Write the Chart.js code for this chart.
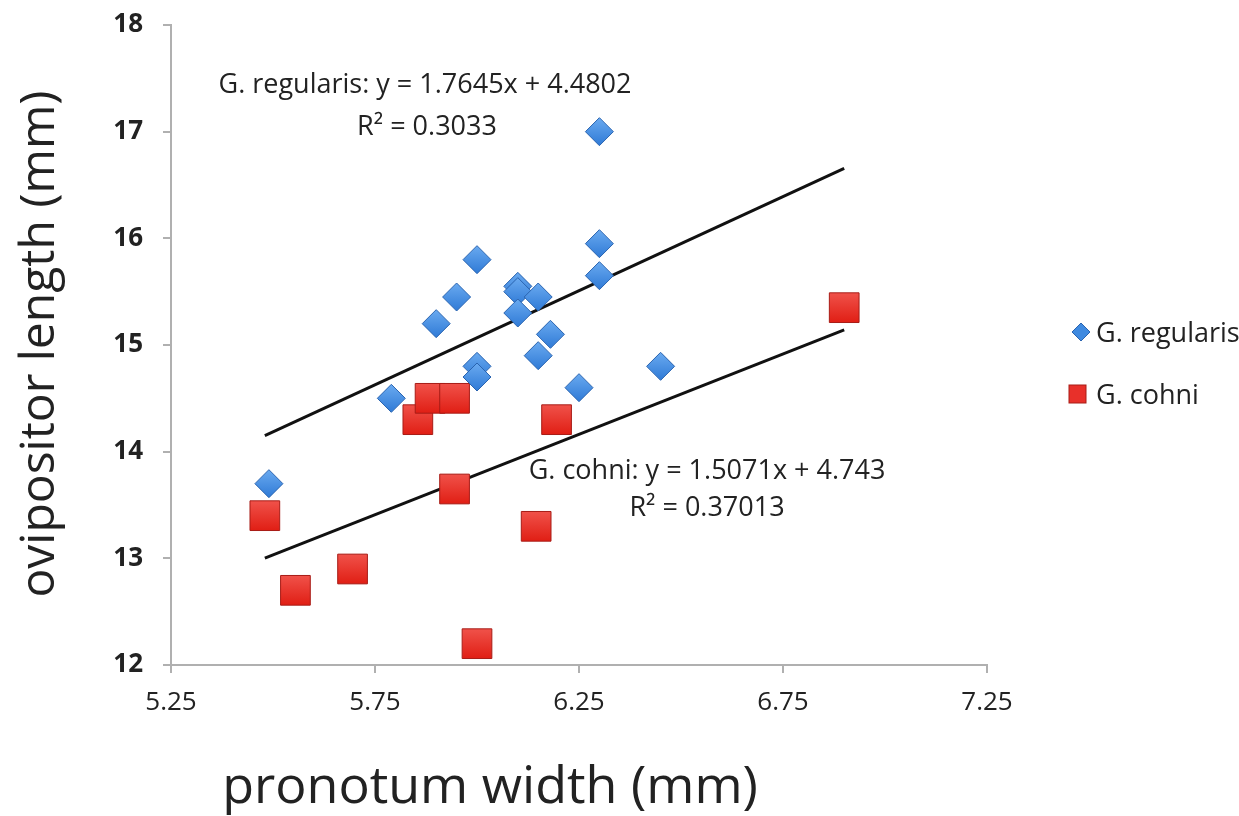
<!DOCTYPE html>
<html>
<head>
<meta charset="utf-8">
<script src="https://cdn.jsdelivr.net/npm/chart.js@4.4.1/dist/chart.umd.min.js"></script>
<style>
  html, body { margin: 0; padding: 0; background: #fff; }
  #wrap { width: 1239px; height: 816px; }
</style>
</head>
<body>
<div id="wrap"><canvas id="chart"></canvas></div>
<script>
// G. regularis (blue diamonds)
const regX = [5.49, 5.79, 5.9, 5.95, 6.0, 6.0, 6.0, 6.1, 6.1, 6.1, 6.15, 6.18, 6.15, 6.25, 6.3, 6.3, 6.3, 6.45];
const regY = [13.7, 14.5, 15.2, 15.45, 15.8, 14.8, 14.7, 15.55, 15.5, 15.3, 15.45, 15.1, 14.9, 14.6, 17.0, 15.95, 15.65, 14.8];
// G. cohni (red squares)
const cohX = [5.48, 5.555, 5.695, 5.855, 5.885, 5.945, 5.945, 6.0, 6.145, 6.195, 6.9];
const cohY = [13.4, 12.7, 12.9, 14.3, 14.5, 14.5, 13.65, 12.2, 13.3, 14.3, 15.35];

// trend line coefficients as printed on the chart
const regFit = { slope: 1.7645, icpt: 4.4802, r2: "0.3033" };
const cohFit = { slope: 1.5071, icpt: 4.743, r2: "0.37013" };
const fitRange = [5.48, 6.9];

const xTicks = [5.25, 5.75, 6.25, 6.75, 7.25];
const yTicks = [12, 13, 14, 15, 16, 17, 18];

const FONT = "'Open Sans', sans-serif";

function pts(xs, ys) { return xs.map((x, i) => ({ x: x, y: ys[i] })); }
function fitLine(f) { return fitRange.map(x => ({ x: x, y: f.slope * x + f.icpt })); }

// vertical gradient fill for each marker, like the glossy Excel markers
function markerFill(top, bottom, half) {
  return (ctx) => {
    if (ctx.type !== "data" || !ctx.parsed) return bottom;
    const y = ctx.chart.scales.y.getPixelForValue(ctx.parsed.y);
    if (!isFinite(y)) return bottom;
    const g = ctx.chart.ctx.createLinearGradient(0, y - half, 0, y + half);
    g.addColorStop(0, top);
    g.addColorStop(1, bottom);
    return g;
  };
}

const textPlugin = {
  id: "texts",
  afterDraw(chart) {
    const c = chart.ctx;
    c.save();
    c.fillStyle = "#222";
    c.textAlign = "center";
    c.textBaseline = "middle";
    c.font = "27px " + FONT;
    c.fillText("G. regularis: y = " + regFit.slope + "x + " + regFit.icpt, 425, 85);
    c.fillText("R\u00b2 = " + regFit.r2, 427, 127);
    c.fillText("G. cohni: y = " + cohFit.slope + "x + " + cohFit.icpt, 707, 471);
    c.fillText("R\u00b2 = " + cohFit.r2, 707, 508);

    // axis titles
    c.font = "52px " + FONT;
    c.fillText("pronotum width (mm)", 490, 788);
    c.save();
    c.translate(40, 344);
    c.rotate(-Math.PI / 2);
    c.font = "48px " + FONT;
    c.fillText("ovipositor length (mm)", 0, 0);
    c.restore();

    // legend
    c.textAlign = "left";
    c.font = "27px " + FONT;
    c.fillStyle = "#3f8ae0";
    c.strokeStyle = "#2a64b0";
    c.lineWidth = 1;
    c.beginPath();
    c.moveTo(1081, 323); c.lineTo(1090, 332); c.lineTo(1081, 341); c.lineTo(1072, 332); c.closePath();
    c.fill(); c.stroke();
    c.fillStyle = "#e8302a";
    c.strokeStyle = "#a81c16";
    c.fillRect(1069, 385, 17, 18);
    c.strokeRect(1069, 385, 17, 18);
    c.fillStyle = "#222";
    c.fillText("G. regularis", 1096, 334);
    c.fillText("G. cohni", 1096, 396);
    c.restore();
  }
};

new Chart(document.getElementById("chart"), {
  type: "scatter",
  data: {
    datasets: [
      {
        label: "G. regularis",
        data: pts(regX, regY),
        pointStyle: "rectRot",
        pointRadius: 14,
        pointHoverRadius: 14,
        backgroundColor: markerFill("#6aaaf0", "#2f7ad6", 14),
        borderColor: "#2a64b0",
        borderWidth: 1,
      },
      {
        label: "G. cohni",
        data: pts(cohX, cohY),
        pointStyle: "rect",
        pointRadius: 21,
        pointHoverRadius: 21,
        backgroundColor: markerFill("#f0524a", "#e01e14", 15),
        borderColor: "#a81c16",
        borderWidth: 1,
      },
      {
        type: "line",
        data: fitLine(regFit),
        borderColor: "#111",
        borderWidth: 3,
        pointRadius: 0,
        fill: false,
      },
      {
        type: "line",
        data: fitLine(cohFit),
        borderColor: "#111",
        borderWidth: 3,
        pointRadius: 0,
        fill: false,
      },
    ],
  },
  options: {
    responsive: true,
    maintainAspectRatio: false,
    animation: false,
    layout: { padding: { top: 25, right: 252, left: 0, bottom: 0 } },
    scales: {
      x: {
        type: "linear",
        min: 5.25,
        max: 7.25,
        afterFit: (s) => { s.height = 151; s.paddingLeft = 0; s.paddingRight = 0; },
        afterBuildTicks: (s) => { s.ticks = xTicks.map(v => ({ value: v })); },
        ticks: {
          padding: 14,
          color: "#222",
          font: { family: FONT, size: 26 },
          callback: (v) => v.toFixed(2),
        },
        grid: { drawOnChartArea: false, tickLength: 8, color: "#b0b0b0", lineWidth: 2 },
        border: { color: "#b0b0b0", width: 2 },
      },
      y: {
        type: "linear",
        min: 12,
        max: 18,
        afterFit: (s) => { s.width = 171; s.paddingTop = 0; s.paddingBottom = 0; },
        afterBuildTicks: (s) => { s.ticks = yTicks.map(v => ({ value: v })); },
        ticks: {
          padding: 20,
          color: "#222",
          font: { family: FONT, size: 26, weight: "bold" },
        },
        grid: { drawOnChartArea: false, tickLength: 8, color: "#b0b0b0", lineWidth: 2 },
        border: { color: "#b0b0b0", width: 2 },
      },
    },
    plugins: {
      legend: { display: false },
      tooltip: { enabled: false },
    },
  },
  plugins: [textPlugin],
});
</script>
</body>
</html>
